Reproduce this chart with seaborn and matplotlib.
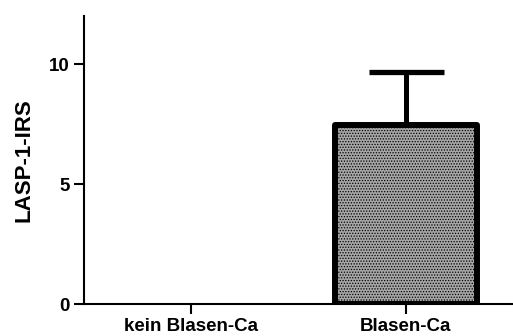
import matplotlib
matplotlib.use("Agg")
import matplotlib.pyplot as plt
import seaborn as sns
import pandas as pd

# Data
groups = ["kein Blasen-Ca", "Blasen-Ca"]
irs_mean = [0.0, 7.45]
irs_sd = [0.0, 2.2]
y_ticks = [0, 5, 10]

sns.set_theme(style="ticks")
plt.rcParams["font.family"] = ["Liberation Sans", "DejaVu Sans"]
plt.rcParams["font.weight"] = "bold"
plt.rcParams["hatch.linewidth"] = 0.6

df = pd.DataFrame({"group": groups, "irs": irs_mean})

fig = plt.figure(figsize=(5.13, 3.36), dpi=100)
ax = fig.add_axes([0.1637, 0.0952, 0.8363, 0.8571])

sns.barplot(data=df, x="group", y="irs", order=groups, errorbar=None,
            color="#a6a6a6", width=0.66, edgecolor="black", linewidth=4.3,
            saturation=1, ax=ax, zorder=3)
for p in ax.patches:
    p.set_hatch("......")
    p.set_joinstyle("round")
    if p.get_height() == 0:
        # empty group: nothing visible on the baseline
        p.set_linewidth(0)
        p.set_visible(False)

# Upper error bar only (mean + SD)
xpos = list(range(len(groups)))
ax.errorbar(xpos[1:], irs_mean[1:], yerr=[[0] * (len(groups) - 1), irs_sd[1:]],
            fmt="none", ecolor="black", elinewidth=3.6, capsize=27,
            capthick=3.8, zorder=2)

ax.set_xlim(-0.5, 1.5)
ax.set_ylim(0, 12)
ax.set_yticks(y_ticks)
ax.set_xlabel("")
ax.set_ylabel("LASP-1-IRS", fontsize=16, fontweight="bold", labelpad=11,
              color="black")

sns.despine(ax=ax)
for s in ("left", "bottom"):
    ax.spines[s].set_linewidth(1.5)
    ax.spines[s].set_color("black")
ax.tick_params(axis="both", length=7, width=1.5, color="black",
               labelsize=13.5, labelcolor="black")
ax.tick_params(axis="x", pad=3)
ax.tick_params(axis="y", pad=3)
for lab in ax.get_xticklabels() + ax.get_yticklabels():
    lab.set_fontweight("bold")

fig.savefig("out.png", dpi=100)
